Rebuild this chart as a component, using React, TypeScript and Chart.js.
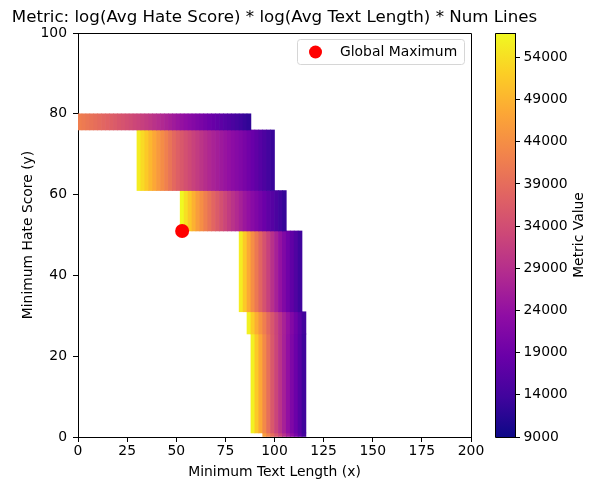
import { useEffect, useRef } from "react"
import { Chart, registerables } from "chart.js"

Chart.register(...registerables)

const chartTitle = "Metric: log(Avg Hate Score) * log(Avg Text Length) * Num Lines"
const xTitle = "Minimum Text Length (x)"
const yTitle = "Minimum Hate Score (y)"
const colorbarTitle = "Metric Value"
const maxLabel = "Global Maximum"

// colour scale
const metricMin = 9000
const metricMax = 56900
const colorbarTicks = [9000, 14000, 19000, 24000, 29000, 34000, 39000, 44000, 49000, 54000]

// each hate score band: y range, first text length, then one metric value per 2-wide column
const columnWidth = 2
const bandLow = [76, 61, 51, 31, 25.5, 1, 0]
const bandHigh = [80, 76, 61, 51, 31, 25.5, 1]
const bandStart = [0, 30, 52, 82, 86, 88, 94]

const band76 = [41600, 41000, 40400, 39800, 39200, 38600, 38000, 37400, 36800, 36200, 35500, 34900, 34300, 33700, 33000, 32400, 31800, 31200, 30400, 29600, 28800, 28000, 27200, 26400, 25600, 24800, 24100, 23400, 22600, 21900, 21200, 20500, 19800, 19000, 18300, 17600, 17000, 16300, 15700, 15000, 14300, 13600, 12900, 12200]
const band61 = [55500, 53500, 51500, 49400, 47400, 45500, 43700, 41900, 40100, 38300, 36900, 35700, 34500, 33300, 32200, 31100, 30000, 28900, 27900, 27000, 26200, 25400, 24600, 23800, 23000, 22200, 21400, 20500, 19500, 18500, 17400, 16300, 15200, 14100, 13000]
const band51 = [56900, 54000, 51300, 48600, 46000, 43900, 41800, 39800, 37900, 36200, 34500, 32800, 31100, 29600, 28100, 26600, 25100, 23800, 22500, 21300, 20000, 18700, 17400, 16200, 15000, 13800, 12700]
const band31 = [55500, 51500, 47500, 44000, 40800, 37800, 34800, 32000, 29300, 26600, 24000, 21600, 19400, 17400, 15500, 13600]
const band25 = [56000, 52000, 48200, 44800, 41600, 38400, 35400, 32400, 29600, 26800, 24200, 21700, 19200, 16700, 14000]
const band1 = [56000, 51500, 47400, 43200, 39400, 35800, 32600, 29600, 26600, 23800, 21200, 18800, 16400, 13600]
const band0 = [46000, 42500, 39000, 35600, 32400, 29200, 26200, 23200, 20200, 17200, 14200]
const bandValues = [band76, band61, band51, band31, band25, band1, band0]

const globalMax = { x: 53, y: 51 }

// matplotlib "plasma" colormap anchors
const plasmaStops = [
  [13, 8, 135], [65, 4, 157], [106, 0, 168], [143, 13, 164], [177, 42, 144], [204, 71, 120],
  [225, 100, 98], [242, 132, 75], [252, 166, 54], [252, 206, 37], [240, 249, 33],
]

function plasma(t: number) {
  const c = Math.min(1, Math.max(0, t)) * (plasmaStops.length - 1)
  const i = Math.min(Math.floor(c), plasmaStops.length - 2)
  const f = c - i
  const a = plasmaStops[i]
  const b = plasmaStops[i + 1]
  const mix = (k: number) => Math.round(a[k] + (b[k] - a[k]) * f)
  return `rgb(${mix(0)}, ${mix(1)}, ${mix(2)})`
}

const metricColor = (v: number) => plasma((v - metricMin) / (metricMax - metricMin))

const fontFamily = "'DejaVu Sans', sans-serif"
const labelSize = 13.9
Chart.defaults.font.family = fontFamily
Chart.defaults.font.size = labelSize
Chart.defaults.color = "#000"

const framePlugin = {
  id: "frame",
  afterDraw(chart: any) {
    const { ctx, chartArea } = chart
    const top = Math.round(chartArea.top - 0.5) + 0.5
    const right = Math.round(chartArea.right - 0.5) + 0.5
    ctx.save()
    ctx.strokeStyle = "#000"
    ctx.lineWidth = 1
    ctx.beginPath()
    ctx.moveTo(chartArea.left, top)
    ctx.lineTo(right, top)
    ctx.lineTo(right, chartArea.bottom)
    ctx.stroke()
    ctx.restore()
  },
}

const legendPlugin = {
  id: "legendBox",
  afterDraw(chart: any) {
    const { ctx, chartArea } = chart
    const ds = chart.data.datasets[0]
    const w = 167
    const h = 25
    const x0 = chartArea.right - 7 - w
    const y0 = chartArea.top + 6
    ctx.save()
    ctx.beginPath()
    ctx.roundRect(x0 + 0.5, y0 + 0.5, w, h, 3)
    ctx.fillStyle = "rgba(255,255,255,0.8)"
    ctx.fill()
    ctx.strokeStyle = "#d6d6d6"
    ctx.lineWidth = 1
    ctx.stroke()
    ctx.beginPath()
    ctx.arc(x0 + 18.5, y0 + h / 2 + 0.5, 6.5, 0, Math.PI * 2)
    ctx.fillStyle = ds.backgroundColor
    ctx.fill()
    ctx.fillStyle = "#000"
    ctx.font = `${labelSize}px ${fontFamily}`
    ctx.textBaseline = "middle"
    ctx.fillText(ds.label, x0 + 43, y0 + h / 2 + 1)
    ctx.restore()
  },
}

const colorbarPlugin = {
  id: "colorbar",
  beforeDraw(chart: any) {
    const { ctx, chartArea } = chart
    const g = ctx.createLinearGradient(0, chartArea.bottom, 0, chartArea.top)
    plasmaStops.forEach((c, i) => g.addColorStop(i / (plasmaStops.length - 1), `rgb(${c[0]}, ${c[1]}, ${c[2]})`))
    ctx.save()
    ctx.fillStyle = g
    ctx.fillRect(chartArea.left, chartArea.top, chartArea.right - chartArea.left, chartArea.bottom - chartArea.top)
    ctx.restore()
  },
  afterDraw(chart: any) {
    const { ctx, chartArea } = chart
    const l = Math.round(chartArea.left - 0.5) + 0.5
    const t = Math.round(chartArea.top - 0.5) + 0.5
    const b = Math.round(chartArea.bottom - 0.5) + 0.5
    ctx.save()
    ctx.strokeStyle = "#000"
    ctx.lineWidth = 1
    ctx.beginPath()
    ctx.moveTo(chartArea.right, t)
    ctx.lineTo(l, t)
    ctx.lineTo(l, b)
    ctx.lineTo(chartArea.right, b)
    ctx.stroke()
    ctx.translate(99, (chartArea.top + chartArea.bottom) / 2)
    ctx.rotate(-Math.PI / 2)
    ctx.fillStyle = "#000"
    ctx.font = `${labelSize}px ${fontFamily}`
    ctx.textAlign = "center"
    ctx.textBaseline = "middle"
    ctx.fillText(colorbarTitle, 0, 0)
    ctx.restore()
  },
}

const tickGrid = { display: true, drawOnChartArea: false, drawTicks: true, tickLength: 5, color: "#000", offset: false }
const blackBorder = { display: true, color: "#000", width: 1 }

export default function App() {
  const mainRef = useRef<HTMLCanvasElement>(null)
  const barRef = useRef<HTMLCanvasElement>(null)

  useEffect(() => {
    if (!mainRef.current || !barRef.current) return

    const bandSets = bandValues.map((values, k) => ({
      type: "bar" as const,
      label: "band " + bandLow[k],
      data: values.map((_, i) => ({
        x: bandStart[k] + columnWidth * i + columnWidth / 2,
        y: [bandLow[k], bandHigh[k]],
      })),
      backgroundColor: values.map(metricColor),
      borderWidth: 0,
      barPercentage: 1,
      categoryPercentage: 1,
      grouped: false,
      order: 1,
    }))

    const main = new Chart(mainRef.current, {
      type: "bar",
      data: {
        datasets: [
          {
            type: "scatter" as const,
            label: maxLabel,
            data: [globalMax],
            backgroundColor: "red",
            borderWidth: 0,
            pointRadius: 7,
            pointHoverRadius: 7,
            order: 0,
          },
          ...bandSets,
        ] as any,
      },
      options: {
        responsive: false,
        animation: false,
        events: [],
        layout: { padding: 0 },
        plugins: {
          legend: { display: false },
          tooltip: { enabled: false },
          title: {
            display: true,
            text: chartTitle,
            color: "#000",
            font: { size: 16.67, weight: "normal" },
            padding: { top: 8, bottom: 5 },
          },
        },
        scales: {
          x: {
            type: "linear",
            min: 0,
            max: 200,
            offset: false,
            grid: tickGrid,
            border: blackBorder,
            ticks: { stepSize: 25, padding: 1, maxRotation: 0, autoSkip: false },
            title: { display: true, text: xTitle, padding: { top: 0, bottom: 2.7 } },
            afterFit: (s: any) => {
              s.height = 46
            },
          },
          y: {
            type: "linear",
            min: 0,
            max: 100,
            grid: tickGrid,
            border: blackBorder,
            ticks: { stepSize: 20, padding: 6 },
            title: { display: true, text: yTitle, padding: { top: 19.7, bottom: 0 } },
            afterFit: (s: any) => {
              s.width = 78
            },
          },
          space: {
            type: "linear",
            position: "right",
            display: true,
            grid: { display: false },
            border: { display: false },
            ticks: { display: false },
            afterFit: (s: any) => {
              s.width = 78
            },
          },
        },
      } as any,
      plugins: [framePlugin, legendPlugin],
    })

    const bar = new Chart(barRef.current, {
      type: "scatter",
      data: { datasets: [] },
      options: {
        responsive: false,
        animation: false,
        events: [],
        layout: { padding: { left: 15, top: 33, bottom: 46, right: 0 } },
        plugins: { legend: { display: false }, tooltip: { enabled: false } },
        scales: {
          x: { display: false },
          y: {
            type: "linear",
            position: "right",
            min: metricMin,
            max: metricMax,
            grid: { display: true, drawOnChartArea: false, drawTicks: true, tickLength: 5, color: "#000" },
            border: blackBorder,
            ticks: { padding: 3.5, callback: (v: any) => String(v) },
            afterBuildTicks: (s: any) => {
              s.ticks = colorbarTicks.map((v) => ({ value: v }))
            },
            afterFit: (s: any) => {
              s.width = 79
            },
          },
        },
      } as any,
      plugins: [colorbarPlugin],
    })

    return () => {
      main.destroy()
      bar.destroy()
    }
  }, [])

  return (
    <div style={{ position: "absolute", left: 0, top: 0, width: 594, height: 483, background: "#fff" }}>
      <canvas ref={mainRef} width={549} height={483} style={{ position: "absolute", left: 0, top: 0 }} />
      <canvas ref={barRef} width={114} height={483} style={{ position: "absolute", left: 480, top: 0 }} />
    </div>
  )
}
